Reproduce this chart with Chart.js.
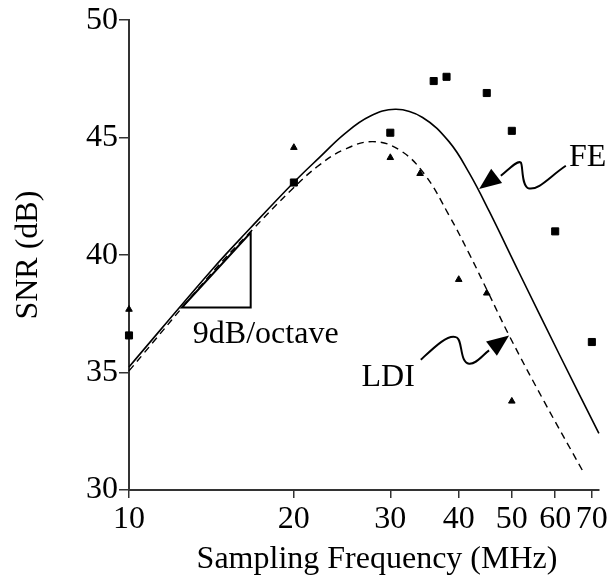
<!DOCTYPE html>
<html>
<head>
<meta charset="utf-8">
<script src="https://cdn.jsdelivr.net/npm/chart.js@4.4.1/dist/chart.umd.min.js"></script>
<style>
  html, body { margin: 0; padding: 0; background: #fff; }
</style>
</head>
<body>
<canvas id="snrChart" width="610" height="582"></canvas>
<script>
const FONT = '"Liberation Serif", "Times New Roman", serif';

const xTicks = [10, 20, 30, 40, 50, 60, 70];
const yTicks = [30, 35, 40, 45, 50];

// simulated curves
const feFreq = [10, 14.24, 16.61, 19.98, 22.28, 24.75, 27.48, 30.73, 34.36, 38.43, 41.79, 45.46, 51.54, 60.97, 72.1];
const feSnr = [35.24, 39.43, 41.12, 43.09, 44.16, 45.16, 45.90, 46.21, 45.86, 44.82, 43.50, 41.87, 39.26, 35.80, 32.41];

const ldiFreq = [10, 14.24, 16.61, 19.98, 22.28, 24.75, 27.86, 31.16, 34.6, 38.43, 41.79, 45.46, 49.43, 57.24, 67.22];
const ldiSnr = [35.07, 39.30, 40.96, 42.87, 43.84, 44.50, 44.83, 44.48, 43.46, 41.68, 40.06, 38.32, 36.58, 33.78, 30.85];

// measured points
const feMeasFreq = [10, 20, 30, 36, 38, 45, 50, 60, 70];
const feMeasSnr = [36.58, 43.09, 45.21, 47.41, 47.59, 46.9, 45.29, 41.01, 36.3];

const ldiMeasFreq = [10, 20, 30, 34, 40, 45, 50];
const ldiMeasSnr = [37.69, 44.58, 44.15, 43.47, 38.96, 38.38, 33.78];

const toPoints = (xs, ys) => xs.map((v, i) => ({x: v, y: ys[i]}));

// arrow: tip sits on a curve, squiggle drawn relative to it
const drawArrowHead = (ctx, tx, ty, bx, by, half) => {
    const dx = tx - bx, dy = ty - by;
    const len = Math.hypot(dx, dy);
    const nx = -dy / len, ny = dx / len;
    ctx.beginPath();
    ctx.moveTo(tx, ty);
    ctx.lineTo(bx + nx * half, by + ny * half);
    ctx.lineTo(bx - nx * half, by - ny * half);
    ctx.closePath();
    ctx.fill();
};

const decorations = {
    id: 'decorations',
    afterDatasetsDraw(chart) {
        const {ctx, scales: {x, y}} = chart;
        const px = v => x.getPixelForValue(v);
        const py = v => y.getPixelForValue(v);

        ctx.save();
        ctx.strokeStyle = '#000';
        ctx.fillStyle = '#000';
        ctx.lineJoin = 'miter';

        // 9dB/octave slope triangle
        ctx.lineWidth = 2;
        ctx.beginPath();
        ctx.moveTo(px(12.49), py(37.77));
        ctx.lineTo(px(16.68), py(40.96));
        ctx.lineTo(px(16.68), py(37.77));
        ctx.closePath();
        ctx.stroke();

        // FE arrow
        let tx = px(43.58), ty = py(42.81);
        ctx.lineWidth = 2;
        ctx.beginPath();
        ctx.moveTo(tx + 86.7, ty - 23.3);
        ctx.bezierCurveTo(tx + 70, ty - 12, tx + 60, ty + 1, tx + 50, ty - 0.6);
        ctx.bezierCurveTo(tx + 42, ty - 2, tx + 44, ty - 24, tx + 41.7, ty - 26.6);
        ctx.bezierCurveTo(tx + 38, ty - 29, tx + 30, ty - 20, tx + 21.7, ty - 13.3);
        ctx.stroke();
        drawArrowHead(ctx, tx, ty, tx + 17.5, ty - 13.3, 9);

        // LDI arrow
        tx = px(49.43); ty = py(36.58);
        ctx.beginPath();
        ctx.moveTo(tx - 88.3, ty + 24.3);
        ctx.bezierCurveTo(tx - 75, ty + 12, tx - 62, ty - 1, tx - 53.3, ty + 1.7);
        ctx.bezierCurveTo(tx - 46, ty + 3, tx - 50, ty + 27, tx - 40, ty + 28.3);
        ctx.bezierCurveTo(tx - 33, ty + 29, tx - 27, ty + 20, tx - 20, ty + 15);
        ctx.stroke();
        drawArrowHead(ctx, tx, ty, tx - 17.6, ty + 13.2, 9);

        // labels
        ctx.font = '32px ' + FONT;
        ctx.textAlign = 'left';
        ctx.textBaseline = 'alphabetic';
        ctx.fillText('FE', px(63.6), py(43.8));
        ctx.fillText('LDI', px(26.58), py(34.42));
        ctx.fillText('9dB/octave', px(13.08), py(36.24));

        // axis titles
        const area = chart.chartArea;
        ctx.textAlign = 'center';
        ctx.textBaseline = 'middle';
        ctx.fillText('Sampling Frequency (MHz)', area.left + 248, area.bottom + 70);
        ctx.translate(29, (area.top + area.bottom) / 2);
        ctx.rotate(-Math.PI / 2);
        ctx.fillText('SNR (dB)', 0, 0);
        ctx.restore();
    }
};

const ctx = document.getElementById('snrChart').getContext('2d');
new Chart(ctx, {
    type: 'line',
    data: {
        datasets: [
            {
                label: 'FE',
                data: toPoints(feFreq, feSnr),
                borderColor: '#000',
                borderWidth: 1.6,
                pointRadius: 0,
                tension: 0.4,
                clip: false
            },
            {
                label: 'LDI',
                data: toPoints(ldiFreq, ldiSnr),
                borderColor: '#000',
                borderWidth: 1.4,
                borderDash: [7, 5],
                pointRadius: 0,
                tension: 0.4,
                clip: false
            },
            {
                type: 'scatter',
                label: 'FE measured',
                data: toPoints(feMeasFreq, feMeasSnr),
                pointStyle: 'rect',
                pointRadius: 5,
                borderWidth: 1,
                borderColor: '#000',
                backgroundColor: '#000',
                showLine: false,
                clip: false
            },
            {
                type: 'scatter',
                label: 'LDI measured',
                data: toPoints(ldiMeasFreq, ldiMeasSnr),
                pointStyle: 'triangle',
                pointRadius: 3.8,
                borderWidth: 1,
                borderColor: '#000',
                backgroundColor: '#000',
                showLine: false,
                clip: false
            }
        ]
    },
    options: {
        responsive: false,
        animation: false,
        devicePixelRatio: 1,
        layout: { padding: { top: 19, right: 10, left: 0, bottom: 0 } },
        plugins: {
            legend: { display: false },
            tooltip: { enabled: false }
        },
        scales: {
            x: {
                type: 'logarithmic',
                min: 10,
                max: 72.1,
                afterBuildTicks: (scale) => {
                    scale.ticks = xTicks.map(v => ({value: v}));
                },
                afterFit: (scale) => { scale.height = 92; },
                border: { display: true, color: '#333', width: 2 },
                grid: { drawOnChartArea: false, drawTicks: true, tickLength: 8, color: '#333', lineWidth: 1.5 },
                ticks: {
                    color: '#000',
                    padding: 2,
                    maxRotation: 0,
                    autoSkip: false,
                    font: { family: FONT, size: 32 },
                    callback: (v) => String(v)
                }
            },
            y: {
                type: 'linear',
                min: 30,
                max: 50,
                afterBuildTicks: (scale) => {
                    scale.ticks = yTicks.map(v => ({value: v}));
                },
                afterFit: (scale) => { scale.width = 129; },
                border: { display: true, color: '#333', width: 2 },
                grid: { drawOnChartArea: false, drawTicks: true, tickLength: 10, color: '#333', lineWidth: 1.5 },
                ticks: {
                    color: '#000',
                    padding: 1,
                    font: { family: FONT, size: 32 },
                    callback: (v) => String(v)
                }
            }
        }
    },
    plugins: [decorations]
});
</script>
</body>
</html>
